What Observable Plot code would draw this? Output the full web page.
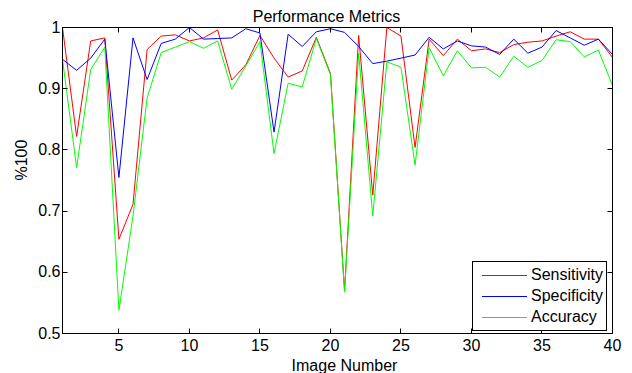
<!DOCTYPE html>
<html>
<head>
<meta charset="utf-8">
<script src="https://cdn.jsdelivr.net/npm/d3@7"></script>
<script src="https://cdn.jsdelivr.net/npm/@observablehq/plot@0.6"></script>
<style>
  html, body { margin: 0; padding: 0; background: #fff; }
  #chart { width: 632px; height: 373px; }
</style>
</head>
<body>
<div id="chart"></div>
<script>
const imageNumbers = [1,2,3,4,5,6,7,8,9,10,11,12,13,14,15,16,17,18,19,20,21,22,23,24,25,26,27,28,29,30,31,32,33,34,35,36,37,38,39,40];
const sensitivity = [1.000,0.822,0.978,0.983,0.654,0.711,0.964,0.986,0.988,0.978,0.983,0.996,0.914,0.939,0.987,0.950,0.919,0.929,0.984,0.925,0.570,0.987,0.726,1.000,0.986,0.804,0.981,0.954,0.981,0.962,0.965,0.959,0.972,0.976,0.978,0.986,0.993,0.981,0.981,0.951];
const specificity = [0.948,0.930,0.950,0.981,0.755,0.983,0.915,0.974,0.981,1.000,0.981,0.982,0.983,0.998,0.991,0.829,0.989,0.969,0.993,0.998,0.992,0.969,0.941,0.945,0.950,0.955,0.984,0.965,0.978,0.970,0.968,0.956,0.981,0.958,0.968,0.995,0.983,0.971,0.981,0.956];
const accuracy = [0.948,0.771,0.931,0.968,0.538,0.692,0.885,0.959,0.968,0.977,0.966,0.978,0.899,0.937,0.977,0.794,0.909,0.903,0.982,0.923,0.568,0.958,0.692,0.944,0.935,0.775,0.967,0.921,0.962,0.934,0.935,0.919,0.953,0.935,0.946,0.980,0.977,0.952,0.963,0.905];
const seriesNames = ["Sensitivity", "Specificity", "Accuracy"];
const seriesColors = ["#ff0000", "#0000ff", "#00ff00"];
const xTicks = [5,10,15,20,25,30,35,40];
const yTicks = [0.5,0.6,0.7,0.8,0.9,1];
const titleText = "Performance Metrics";
const xLabel = "Image Number";
const yLabel = "%100";

const seriesValues = [sensitivity, specificity, accuracy];
const table = seriesNames.map((name, s) => imageNumbers.map((n, i) => ({image: n, value: seriesValues[s][i], series: name})));

const FONT = 16;

// inward tick marks on all four sides (MATLAB box style)
function innerTicks(index, scales, values, dims) {
  const {x, y} = scales;
  const l = dims.marginLeft + 0.5, t = dims.marginTop + 0.5;
  const r = dims.width - dims.marginRight + 0.5, b = dims.height - dims.marginBottom + 0.5;
  const g = d3.create("svg:g").attr("stroke", "black").attr("stroke-width", 1).attr("fill", "none");
  const len = 5;
  for (const v of xTicks) {
    const px = Math.round(x(v)) + 0.5;
    g.append("line").attr("x1", px).attr("x2", px).attr("y1", b).attr("y2", b - len);
    g.append("line").attr("x1", px).attr("x2", px).attr("y1", t).attr("y2", t + len);
  }
  for (const v of yTicks) {
    const py = Math.round(y(v)) + 0.5;
    g.append("line").attr("y1", py).attr("y2", py).attr("x1", l).attr("x2", l + len);
    g.append("line").attr("y1", py).attr("y2", py).attr("x1", r).attr("x2", r - len);
  }
  return g.node();
}

// legend box in the lower right corner of the frame
function legendBox(index, scales, values, dims) {
  const r = dims.width - dims.marginRight, b = dims.height - dims.marginBottom;
  const w = 134, h = 69;
  const x0 = r - 6 - w, y0 = b - 3 - h;
  const g = d3.create("svg:g");
  g.append("rect").attr("x", x0 + 0.5).attr("y", y0 + 0.5).attr("width", w).attr("height", h)
    .attr("fill", "white").attr("stroke", "black").attr("stroke-width", 1);
  seriesNames.forEach((name, i) => {
    const cy = y0 + 14 + i * 21;
    g.append("line").attr("x1", x0 + 10).attr("x2", x0 + 55).attr("y1", cy + 0.5).attr("y2", cy + 0.5)
      .attr("stroke", seriesColors[i]).attr("stroke-width", 1);
    g.append("text").attr("x", x0 + 59).attr("y", cy - 0.5).attr("dy", "0.35em")
      .attr("text-anchor", "start")
      .attr("font-size", FONT).attr("fill", "black").text(name);
  });
  return g.node();
}

const chart = Plot.plot({
  width: 632,
  height: 373,
  marginLeft: 62,
  marginRight: 20,
  marginTop: 27,
  marginBottom: 40,
  style: {fontFamily: "'Liberation Sans', Arial, sans-serif", fontSize: FONT + "px", background: "white", color: "black"},
  x: {domain: [1, 40]},
  y: {domain: [0.5, 1]},
  marks: [
    ...seriesNames.map((name, s) => Plot.line(table[s], {x: "image", y: "value", stroke: seriesColors[s], strokeWidth: 1})),
    Plot.frame({stroke: "black", strokeWidth: 1}),
    innerTicks,
    Plot.axisX({ticks: xTicks, tickSize: 0, tickPadding: 6, tickFormat: d => String(d), label: null, fontSize: FONT}),
    Plot.axisY({ticks: yTicks, tickSize: 0, tickPadding: 2, tickFormat: d => String(d), label: null, fontSize: FONT}),
    Plot.text([titleText], {text: d => d, frameAnchor: "top", lineAnchor: "bottom", dx: -11, dy: -6, fontSize: FONT, fill: "black"}),
    Plot.text([xLabel], {text: d => d, frameAnchor: "bottom", lineAnchor: "bottom", dx: 7, dy: 37, fontSize: FONT, fill: "black"}),
    Plot.text([yLabel], {text: d => d, frameAnchor: "left", dx: -41, rotate: -90, fontSize: FONT, fill: "black"}),
    legendBox
  ]
});
document.getElementById("chart").appendChild(chart);
</script>
</body>
</html>
